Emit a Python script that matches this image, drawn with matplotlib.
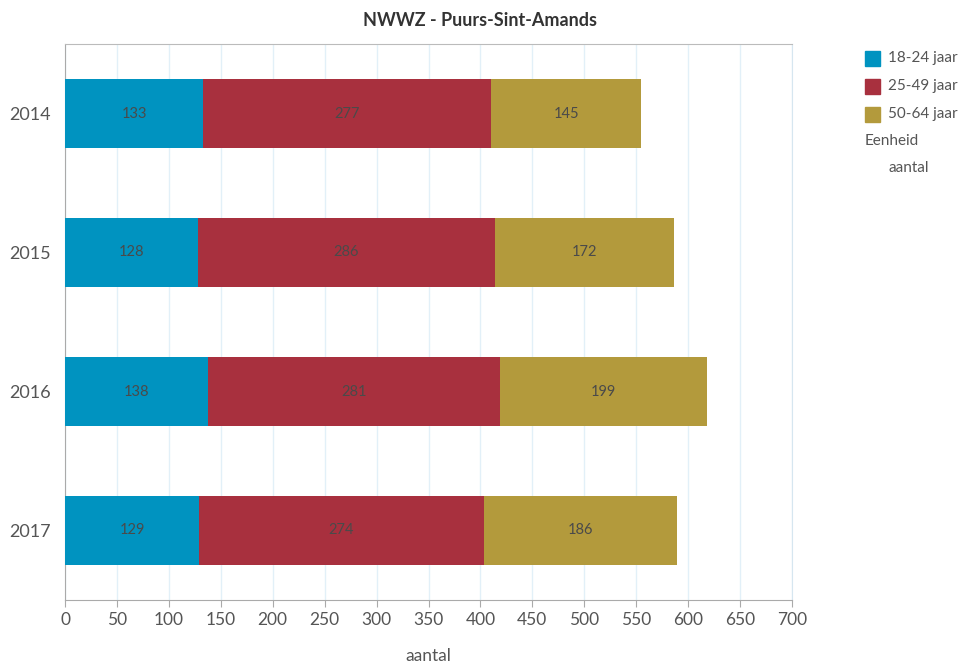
import matplotlib.pyplot as plt
from matplotlib.patches import Rectangle

# data
years = ['2014', '2015', '2016', '2017']
age_groups = ['18-24 jaar', '25-49 jaar', '50-64 jaar']
age_18_24 = [133, 128, 138, 129]
age_25_49 = [277, 286, 281, 274]
age_50_64 = [145, 172, 199, 186]
colors = ['#0093c0', '#a8303e', '#b39a3c']
xticks = list(range(0, 701, 50))

plt.rcParams['font.family'] = ['Lato', 'DejaVu Sans']

fig = plt.figure(figsize=(9.63, 6.68), dpi=100)
ax = fig.add_axes([65 / 963, 68 / 668, 727 / 963, 556 / 668])

ypos = list(range(len(years)))
left = [0] * len(years)
for vals, col in zip([age_18_24, age_25_49, age_50_64], colors):
    bars = ax.barh(ypos, vals, left=left, height=0.5, color=col, zorder=3)
    for b, v in zip(bars, vals):
        ax.text(b.get_x() + b.get_width() / 2, b.get_y() + b.get_height() / 2, str(v),
                ha='center', va='center', fontsize=10.5, color='#4a4a4a', zorder=4)
    left = [l + v for l, v in zip(left, vals)]

ax.set_xlim(0, 700)
ax.set_ylim(3.5, -0.5)
ax.set_xticks(xticks)
ax.set_yticks(ypos)
ax.set_yticklabels(years)
ax.tick_params(axis='x', labelsize=12.5, colors='#555555', length=5, color='#aaaaaa')
ax.tick_params(axis='y', labelsize=13, colors='#555555', length=0, pad=10)
ax.xaxis.grid(True, color='#e2f0f8', linewidth=1, zorder=0)

ax.spines['left'].set_color('#aaaaaa')
ax.spines['bottom'].set_color('#aaaaaa')
ax.spines['top'].set_color('#bbbbbb')
ax.spines['right'].set_color('#d6e6f0')

fig.text(428 / 963, 1 - 656 / 668, 'aantal', ha='center', va='center', fontsize=12.5, color='#555555')
fig.text(480 / 963, 1 - 20 / 668, 'NWWZ - Puurs-Sint-Amands', ha='center', va='center',
         fontsize=13, fontweight='bold', color='#333333')

# legend on the right
for i, (lab, col) in enumerate(zip(age_groups, colors)):
    yc = 58 + i * 28
    fig.patches.append(Rectangle((865 / 963, 1 - (yc + 7.5) / 668), 15 / 963, 15 / 668,
                                 transform=fig.transFigure, color=col))
    fig.text(888 / 963, 1 - yc / 668, lab, ha='left', va='center', fontsize=11, color='#555555')
fig.text(865 / 963, 1 - 141 / 668, 'Eenheid', ha='left', va='center', fontsize=11, color='#555555')
fig.text(888 / 963, 1 - 168 / 668, 'aantal', ha='left', va='center', fontsize=11, color='#555555')

fig.savefig('out.png', dpi=100)
